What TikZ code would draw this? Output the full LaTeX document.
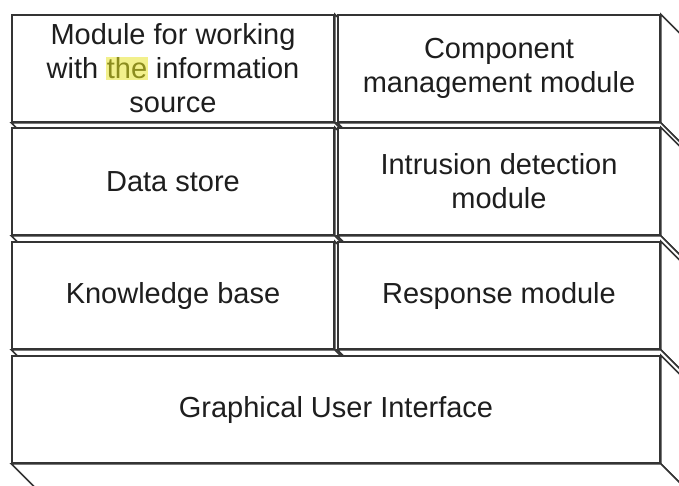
\documentclass[tikz,border=0pt]{standalone}
\usepackage{fontspec}
\setmainfont{Liberation Sans}
\definecolor{edge}{HTML}{343434}
\definecolor{ink}{HTML}{1E1E1E}
\definecolor{hlback}{HTML}{F2F08C}
\definecolor{hltext}{HTML}{8C8C1E}
\tikzset{
  front/.style={draw=edge, line width=1.5pt, fill=white, align=center, text=ink,
    font=\fontsize{29}{34}\selectfont, inner sep=0pt, minimum height=107pt},
  half/.style={front, minimum width=322pt},
  full/.style={front, minimum width=648pt},
  face/.style={draw=edge, line width=1.5pt, fill=white, line join=miter},
}
% right and bottom faces of a 3D block whose front is the node #1
\newcommand\blockfaces[1]{%
  \filldraw[face] (#1.north east) -- ++(30,30) -- ([shift={(30,30)}]#1.south east)
    -- (#1.south east) -- cycle;
  \filldraw[face] (#1.south west) -- ++(30,30) -- ([shift={(30,30)}]#1.south east)
    -- (#1.south east) -- cycle;
}
\newcommand\hl[1]{{\setlength\fboxsep{0.6pt}\colorbox{hlback}{\textcolor{hltext}{#1}}}}
\begin{document}
\begin{tikzpicture}[x=1pt, y=-1pt]
  \useasboundingbox (0,0) rectangle (679,485);
  \clip (0,0) rectangle (679,485);
  \fill[white] (0,0) rectangle (679,485);

  \node[half] (src) at (173,68.5) {Module for working\\with \hl{the} information\\source};
  \blockfaces{src}
  \node[half] (comp) at (499,68.5) {Component\\management module};
  \blockfaces{comp}

  \node[half] (data) at (173,181.5) {Data store};
  \blockfaces{data}
  \node[half] (ids) at (499,181.5) {Intrusion detection\\module};
  \blockfaces{ids}

  \node[half] (kb) at (173,295.5) {Knowledge base};
  \blockfaces{kb}
  \node[half] (resp) at (499,295.5) {Response module};
  \blockfaces{resp}

  \node[full] (gui) at (336,409.5) {Graphical User Interface};
  \blockfaces{gui}
\end{tikzpicture}
\end{document}
